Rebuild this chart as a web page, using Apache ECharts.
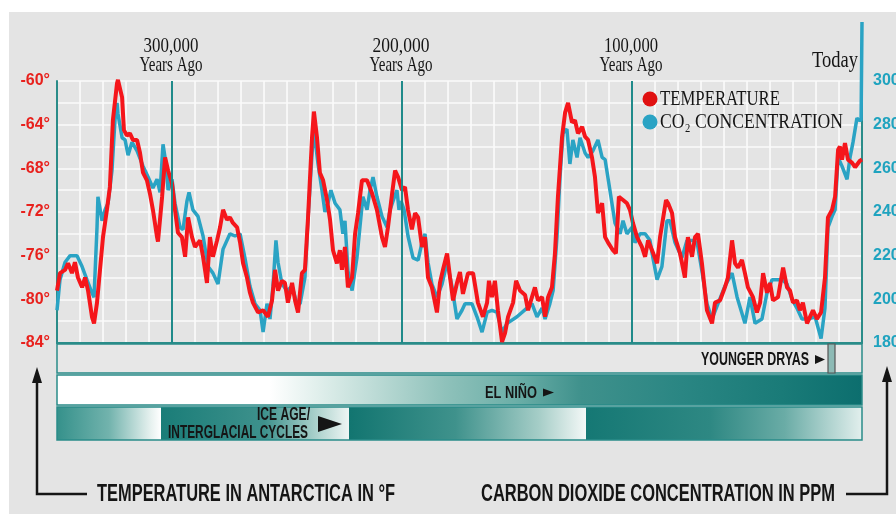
<!DOCTYPE html>
<html><head><meta charset="utf-8">
<script src="https://cdn.jsdelivr.net/npm/echarts@6/dist/echarts.min.js"></script>
<style>html,body{margin:0;padding:0;background:#fff}#c{width:896px;height:514px}</style>
</head><body><div id="c"></div>
<script>
// ---------- DATA (thousands of years ago / value) ----------
const tempAge = [350,348.7,346.5,345.2,343.5,342.2,340.9,339.1,337.8,336.5,334.8,333.9,332.6,331.3,330,328.3,327,325.7,323.9,323.5,321.7,320.9,319.6,318.3,317,315.2,313.9,312.6,310.9,309.6,308.3,306.5,306.1,304.3,303,301.7,300,298.7,297.4,295.7,294.3,293,291.3,290,287.8,286.5,284.8,283.5,282.2,280.4,279.1,277.8,276.1,274.8,273.5,271.7,270.4,269.1,267.4,266.1,264.8,262.6,260.4,258.3,256.5,255.2,253.9,252.2,250.9,249.6,247.8,246.5,245.2,243.5,242.2,240.9,239.1,238.3,237,235.7,234.3,232.6,231.3,230,228.3,227,226.1,224.8,223.5,221.7,220.4,219.1,217.4,215.2,213,210.9,208.7,207.4,206.1,204.3,203,201.7,200,198.7,197.4,195.7,194.3,193,191.3,190,188.7,187,184.8,183.5,182.2,180.4,179.1,177.8,176.1,174.8,173.5,171.3,169.1,167,164.8,163,162.2,160.9,159.6,158.3,156.5,155.2,153.9,151.7,150.4,148.7,146.5,145.2,143.5,142.2,140.9,139.1,137.8,136.5,134.8,133.5,132.2,130.4,129.1,127.8,126.1,124.8,123.5,121.7,120.4,119.1,117.4,116.1,114.8,113,111.7,110.4,108.3,107,105.7,103.9,102.2,100.9,99.6,97.8,95.7,94.3,93,91.3,89.1,87.8,85.2,84.3,82.6,81.3,79.1,77,75.7,73.9,72.6,71.3,69.6,67.4,65.2,63.9,61.7,59.6,58.3,56.5,55.2,53.9,52.2,50.9,49.6,47.4,45.7,44.3,43,41.3,40,38.7,36.5,34.3,32.6,31.3,30,28.3,27,25.7,23.9,22.6,21.3,19.6,17.8,16.1,14.8,13,11.7,10.4,9.6,8.7,7.4,6.1,4.3,3,0.9,0];
const tempVal = [-79.2,-77.6,-77.3,-76.7,-77.6,-76.6,-78,-78.9,-78,-79.2,-81.6,-82.2,-80.3,-77.3,-74.3,-71.8,-69.7,-63.6,-60.2,-59.9,-61.5,-64.5,-65,-64.8,-65.4,-65.4,-66.6,-68.4,-69.1,-70.3,-71.8,-74.3,-74.7,-70.6,-67,-68.2,-69.4,-71.8,-73.9,-74.3,-76.1,-72.5,-74.3,-75.2,-74.6,-76.1,-78.5,-74.3,-76.1,-74.6,-73.4,-71.8,-72.7,-72.5,-73,-73.4,-74.8,-76.7,-78,-79.4,-80.3,-81.2,-81,-81.6,-80.1,-77.3,-79.2,-78.3,-78.5,-80.3,-78.5,-80.1,-81.2,-77.6,-77.3,-72.7,-65.1,-62.8,-65.1,-68.4,-69.1,-70.9,-72.7,-75.5,-76.7,-75.5,-77.3,-75.2,-78.9,-78,-74,-72.1,-69.1,-69.1,-70.3,-71.8,-74.3,-75.2,-73.4,-70.3,-68.2,-68.8,-70,-69.7,-71.8,-73.6,-72.1,-72.5,-75.2,-74.3,-78,-78.9,-81.2,-78.5,-77.3,-75.8,-78,-80.1,-78.5,-77.5,-79.5,-77.6,-77.6,-80.3,-81.6,-80.3,-78.3,-79.8,-78.3,-81,-83.9,-83.1,-81.6,-80.3,-78.3,-79.2,-79.6,-81,-79.8,-78.9,-80.1,-79.8,-81.6,-79.8,-78.9,-75.8,-70.6,-65.1,-62.9,-62,-63.8,-63.6,-64.8,-64.2,-65.1,-65.4,-67,-68.8,-72.1,-71.2,-74.3,-74.8,-75.5,-75.8,-70.6,-70.9,-71.2,-71.8,-73,-74.3,-75.2,-76.1,-74.6,-75.5,-76.7,-74.3,-70.9,-71.2,-72.1,-74.3,-75.8,-78,-74.3,-76.1,-74.3,-74,-76.7,-81,-82.2,-80.3,-80.1,-78.9,-78,-74.6,-76.7,-77.1,-76.4,-77.6,-78.9,-79.8,-81.2,-80.3,-77.6,-79.4,-78.5,-80.1,-79.8,-77.1,-78.9,-79.2,-80.3,-80.1,-81,-80.3,-82.2,-81.6,-81,-81.8,-81.2,-78,-72.5,-71.8,-70.6,-66.3,-66,-67.2,-65.7,-67.2,-67.5,-67.9,-67.3,-67.2];
const co2Age = [350,348.7,346.5,344.3,341.3,339.1,337,334.8,333.9,332.6,332.2,330.4,329.1,327.8,326.1,324.8,323.9,323.5,321.7,320.4,319.1,317.4,315.2,312.6,310.4,308.3,306.5,305.2,303.9,302.6,301.7,300,298.7,296.5,295.2,293.5,292.6,290.9,288.7,286.5,284.3,282.2,280,277.8,274.8,272.6,270.4,268.3,266.1,263.9,261.7,260.4,258.7,257.4,256.1,254.8,253.9,252.2,250,247.8,245.7,244.3,242.2,240.9,239.1,238.3,236.5,234.8,233.5,232.2,230.9,229.1,227,225.7,224.8,223.5,221.7,219.6,218.3,217,215.2,213.9,212.6,210.9,208.7,206.5,205.2,203.9,202.2,201.3,200.4,199.1,197.4,195.2,193,191.3,190,188.7,187,184.8,182.6,180.4,178.3,176.1,173.9,172.6,169.6,167.4,165.2,163,160.9,158.7,156.5,154.3,150,145.7,143.5,141.3,139.1,137.8,135.7,134.3,132.6,131.3,130,128.3,127,125.7,123.9,122.6,120.4,119.1,117,114.8,113,111.7,109.6,107.4,105.2,103.9,102.2,100,98.7,96.5,94.3,92.2,90.9,89.1,87,84.8,83.5,81.3,78.3,76.1,73.9,71.7,69.6,67.4,65.2,62.6,59.6,56.5,54.3,50.9,48.7,46.5,43.5,41.3,39.1,34.8,32.6,30.4,28.3,26.1,23.5,20.4,17.8,16.1,14.8,13,11.7,10.4,8.7,6.5,5.2,3.9,2.2,1.3,0.4,0];
const co2Val = [195,209,217,220,220,215,209,203,201,233,247,236,241,244,259,282,290,285,274,273,266,272,268,261,256,251,255,249,271,262,250,255,244,233,232,245,249,241,238,229,215,212,207,223,230,229,230,219,206,198,195,185,198,191,206,227,217,207,204,206,198,198,210,236,267,278,262,250,240,244,250,244,241,230,236,213,204,219,233,247,241,250,256,247,238,233,241,245,250,241,245,241,229,219,218,226,230,217,207,201,207,217,206,191,195,198,198,192,185,194,195,194,185,189,192,196,198,192,196,191,198,204,229,256,276,278,262,273,265,274,267,265,268,273,265,264,250,235,230,236,230,233,226,230,230,227,219,209,215,236,236,226,219,227,227,226,213,198,191,198,206,212,201,189,201,189,191,203,209,209,207,200,196,191,191,192,182,196,233,238,241,265,261,255,265,272,283,282,282,327];
const epochAges = [300, 200, 100];
const epochLabels = ['300,000', '200,000', '100,000'];
const epochSubLabel = 'Years Ago';
const todayLabel = 'Today';
const seriesNames = ['TEMPERATURE', 'CO\u2082 CONCENTRATION'];
const axisTitles = ['TEMPERATURE IN ANTARCTICA IN \u00B0F', 'CARBON DIOXIDE CONCENTRATION IN PPM'];
const bandLabels = ['YOUNGER DRYAS', 'EL NI\u00D1O', 'ICE AGE/', 'INTERGLACIAL CYCLES'];

// ---------- CHART ----------
const TEAL = '#2a8c89';
const RED = '#f5161b';
const BLUE = '#2aa3c4';
const SERIF = '"Liberation Serif", "Times New Roman", serif';
const SANS = '"Liberation Sans", Arial, sans-serif';
const chart = echarts.init(document.getElementById('c'), null, {renderer: 'canvas'});

const option = {
  backgroundColor: '#e4e4e4',
  animation: false,
  grid: {left: 57, right: 34, top: 81, bottom: 171, containLabel: false, outerBoundsMode: 'none'},
  xAxis: {
    type: 'value', inverse: true, min: 0, max: 350, interval: 10,
    axisLine: {show: true, onZero: false, lineStyle: {color: TEAL, width: 2}},
    axisTick: {show: false}, axisLabel: {show: false},
    splitLine: {show: true, lineStyle: {color: '#fbfbfb', width: 1.6}}
  },
  yAxis: [{
    type: 'value', min: -84, max: -60, interval: 2, position: 'left',
    axisLine: {show: true, onZero: false, lineStyle: {color: TEAL, width: 2}},
    axisTick: {show: false},
    axisLabel: {margin: 7, color: '#e8211d', fontFamily: SANS, fontWeight: 'bold', fontSize: 16,
      formatter: v => (v % 4 === 0 ? v + '\u00B0' : '')},
    splitLine: {show: true, lineStyle: {color: '#fbfbfb', width: 1.6}}
  }, {
    type: 'value', min: 180, max: 300, interval: 10, position: 'right',
    axisLine: {show: true, onZero: false, lineStyle: {color: TEAL, width: 2}},
    axisTick: {show: false},
    axisLabel: {margin: 11, color: '#1fa3bf', fontFamily: SANS, fontWeight: 'bold', fontSize: 16,
      formatter: v => (v % 20 === 0 ? String(v) : '')},
    splitLine: {show: false}
  }],
  series: [{
    name: 'epochs', type: 'line', data: [], z: 2, silent: true,
    markLine: {silent: true, symbol: ['none', 'none'], label: {show: false},
      lineStyle: {color: '#1f8a8a', width: 2, type: 'solid'},
      data: epochAges.map(a => ({xAxis: a}))}
  }, {
    name: seriesNames[1], type: 'line', yAxisIndex: 1, z: 3, clip: false,
    data: co2Age.map((a, i) => [a, co2Val[i]]), symbol: 'none',
    lineStyle: {color: BLUE, width: 3.5}
  }, {
    name: seriesNames[0], type: 'line', yAxisIndex: 0, z: 4,
    data: tempAge.map((a, i) => [a, tempVal[i]]), symbol: 'none',
    lineStyle: {color: RED, width: 4}
  }]
};
chart.setOption(option);

// ---------- annotations ----------
const mctx = document.createElement('canvas').getContext('2d');
function txt(text, font, x, y, w, align, fill) {
  mctx.font = font;
  const sx = w / mctx.measureText(text).width;
  return {type: 'text', x: x, y: y, scaleX: sx, silent: true, z: 60,
    style: {text: text, font: font, fill: fill || '#151515', align: align || 'left', textAlign: align || 'left',
      verticalAlign: 'middle', textVerticalAlign: 'middle'}};
}
function grad(stops) {
  return new echarts.graphic.LinearGradient(0, 0, 1, 0, stops.map(s => ({offset: s[0], color: s[1]})));
}
const g = [];
// white margins
g.push({type: 'rect', shape: {x: 0, y: 0, width: 896, height: 12}, style: {fill: '#ffffff'}, z: 1, silent: true});
g.push({type: 'rect', shape: {x: 0, y: 0, width: 9, height: 514}, style: {fill: '#ffffff'}, z: 1, silent: true});

// epoch labels
const epochW = [55, 57, 54];
epochAges.forEach((a, i) => {
  const px = chart.convertToPixel({xAxisIndex: 0}, a);
  g.push(txt(epochLabels[i], '22px ' + SERIF, px - 1, 46, epochW[i], 'center'));
  g.push(txt(epochSubLabel, '21px ' + SERIF, px - 1, 65, 63, 'center'));
});
const px0 = chart.convertToPixel({xAxisIndex: 0}, 0);
g.push(txt(todayLabel, '24px ' + SERIF, px0 - 4, 61, 46, 'right'));

// legend
g.push({type: 'circle', shape: {cx: 650, cy: 99, r: 7.5}, style: {fill: '#e01010'}, z: 60, silent: true});
g.push({type: 'circle', shape: {cx: 650, cy: 122, r: 7.5}, style: {fill: BLUE}, z: 60, silent: true});
g.push(txt(seriesNames[0], '21px ' + SERIF, 660, 99, 120, 'left'));
g.push(txt(seriesNames[1], '21px ' + SERIF, 660, 122, 183, 'left'));

// bands
g.push({type: 'rect', shape: {x: 57, y: 344, width: 805, height: 29}, style: {fill: '#e7e7e7', stroke: TEAL, lineWidth: 1.5}, z: 20, silent: true});
g.push({type: 'rect', shape: {x: 828, y: 344, width: 7, height: 29}, style: {fill: '#8dbab5', stroke: '#555', lineWidth: 1.2}, z: 21, silent: true});
g.push({type: 'rect', shape: {x: 57, y: 375, width: 805, height: 30}, style: {fill: grad([[0, '#ffffff'], [0.265, '#ffffff'], [0.343, '#d7eae6'], [0.484, '#8ec1ba'], [0.569, '#6cafa8'], [0.651, '#3f918c'], [0.775, '#2a8683'], [0.899, '#1a7b78'], [1, '#0c6e6e']]), stroke: TEAL, lineWidth: 1.5}, z: 20, silent: true});
const segs = [
  [57, 161, [[0, '#35918b'], [0.5, '#72b3ad'], [0.9, '#e6f1ef'], [1, '#ffffff']]],
  [161, 349, [[0, '#1a7d78'], [0.55, '#3e918c'], [0.85, '#b5d7d2'], [1, '#eef5f4']]],
  [349, 586, [[0, '#127570'], [0.45, '#3f928c'], [0.8, '#a5cdc7'], [1, '#f4f8f7']]],
  [586, 862, [[0, '#157874'], [0.45, '#2e8883'], [0.72, '#6aaca6'], [1, '#e2efed']]]
];
segs.forEach(s => g.push({type: 'rect', shape: {x: s[0], y: 407, width: s[1] - s[0], height: 33}, style: {fill: grad(s[2])}, z: 20, silent: true}));
g.push({type: 'rect', shape: {x: 57, y: 407, width: 805, height: 33}, style: {fill: null, stroke: TEAL, lineWidth: 1.5}, z: 21, silent: true});

// band texts
g.push(txt(bandLabels[0], 'bold 18px ' + SANS, 809, 360, 108, 'right'));
g.push({type: 'polygon', shape: {points: [[815, 355], [815, 364], [825, 359.5]]}, style: {fill: '#151515'}, z: 60, silent: true});
g.push(txt(bandLabels[1], 'bold 17px ' + SANS, 485, 393, 52, 'left'));
g.push({type: 'polygon', shape: {points: [[543, 388.5], [543, 396.5], [554, 392.5]]}, style: {fill: '#151515'}, z: 60, silent: true});
g.push(txt(bandLabels[2], 'bold 18px ' + SANS, 310, 415, 53, 'right'));
g.push(txt(bandLabels[3], 'bold 18px ' + SANS, 308, 433, 140, 'right'));
g.push({type: 'polygon', shape: {points: [[318, 416], [318, 432], [342, 424]]}, style: {fill: '#151515'}, z: 60, silent: true});

// axis titles and arrows
g.push(txt(axisTitles[0], 'bold 24px ' + SANS, 97, 494, 298, 'left'));
g.push(txt(axisTitles[1], 'bold 24px ' + SANS, 481, 494, 354, 'left'));
g.push({type: 'polyline', shape: {points: [[37, 380], [37, 494], [87, 494]]}, style: {stroke: '#151515', lineWidth: 2.5, fill: null}, z: 60, silent: true});
g.push({type: 'polygon', shape: {points: [[37, 367], [32, 383], [42, 383]]}, style: {fill: '#151515'}, z: 60, silent: true});
g.push({type: 'polyline', shape: {points: [[846, 494], [887, 494], [887, 380]]}, style: {stroke: '#151515', lineWidth: 2.5, fill: null}, z: 60, silent: true});
g.push({type: 'polygon', shape: {points: [[887, 366], [882, 382], [892, 382]]}, style: {fill: '#151515'}, z: 60, silent: true});

chart.setOption({graphic: {elements: g}});
</script>
</body></html>
